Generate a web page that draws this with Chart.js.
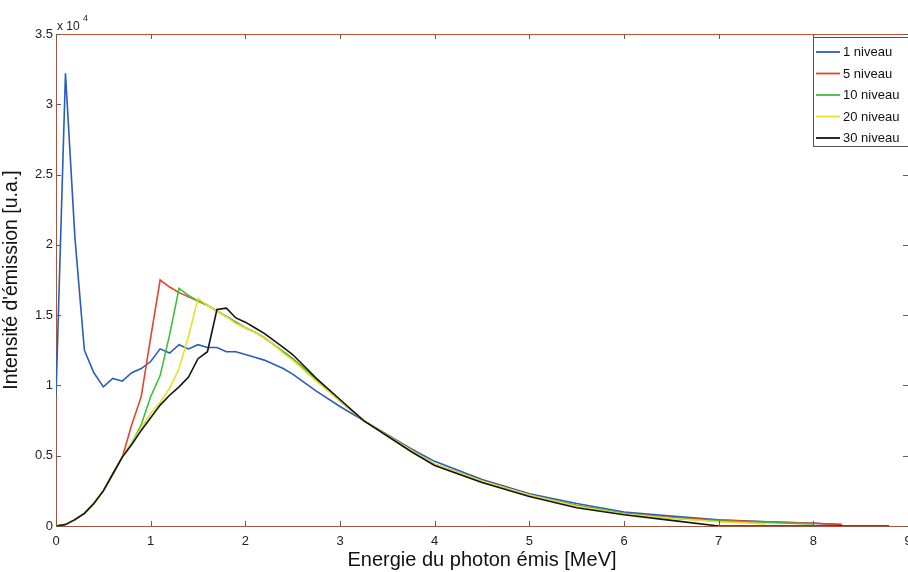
<!DOCTYPE html>
<html lang="fr">
<head>
<meta charset="utf-8">
<title>Intensité d'émission</title>
<script src="https://cdn.jsdelivr.net/npm/chart.js@4.4.1/dist/chart.umd.min.js"></script>
<style>
    html, body { margin: 0; padding: 0; background: #fff; }
    #wrap { width: 908px; height: 572px; }
</style>
</head>
<body>
<div id="wrap"><canvas id="SpectreChart" width="908" height="572"></canvas></div>
<script>

// ---------------- Data (intensity in units of 10^4) ----------------
const energies = [0, 0.1, 0.2, 0.3, 0.4, 0.5, 0.6, 0.7, 0.8, 0.9,
    1.0, 1.1, 1.2, 1.3, 1.4, 1.5, 1.6, 1.7, 1.8, 1.9,
    2.0, 2.1, 2.2, 2.3, 2.4, 2.5, 2.75, 3.0, 3.25, 3.5,
    3.75, 4.0, 4.5, 5.0, 5.5, 6.0, 6.5, 7.0, 7.5, 8.0, 8.3, 8.8];

const niveau1 = [0.93, 3.22, 2.05, 1.25, 1.09, 0.99, 1.05, 1.03, 1.09, 1.12,
    1.17, 1.26, 1.23, 1.29, 1.26, 1.29, 1.27, 1.27, 1.24, 1.24,
    1.22, 1.20, 1.18, 1.15, 1.12, 1.08, 0.96, 0.85, 0.75, 0.65,
    0.55, 0.46, 0.33, 0.23, 0.16, 0.10, 0.07, 0.045, 0.03, 0.02, 0.01, null];

const niveau5 = [0, 0.01, 0.045, 0.09, 0.16, 0.25, 0.37, 0.49, 0.72, 0.92,
    1.34, 1.75, 1.70, 1.66, 1.63, 1.60, 1.57, 1.53, 1.49, 1.45,
    1.41, 1.38, 1.34, 1.29, 1.24, 1.19, 1.04, 0.89, 0.75, 0.645,
    0.54, 0.44, 0.32, 0.22, 0.145, 0.09, 0.06, 0.04, 0.03, 0.02, 0.01, null];

const niveau10 = [0, 0.01, 0.045, 0.09, 0.16, 0.25, 0.37, 0.49, 0.59, 0.72,
    0.92, 1.07, 1.36, 1.69, 1.64, 1.60, 1.57, 1.53, 1.49, 1.45,
    1.41, 1.38, 1.34, 1.29, 1.24, 1.19, 1.04, 0.89, 0.75, 0.645,
    0.54, 0.44, 0.32, 0.22, 0.145, 0.09, 0.055, 0.035, 0.025, 0.015, null, null];

const niveau20 = [0, 0.01, 0.045, 0.09, 0.16, 0.25, 0.37, 0.49, 0.59, 0.70,
    0.80, 0.88, 0.98, 1.12, 1.35, 1.62, 1.57, 1.53, 1.49, 1.44,
    1.41, 1.38, 1.34, 1.29, 1.23, 1.18, 1.03, 0.89, 0.75, 0.645,
    0.54, 0.44, 0.32, 0.22, 0.14, 0.085, 0.055, 0.03, 0.015, null, null, null];

const niveau30 = [0, 0.01, 0.045, 0.09, 0.16, 0.25, 0.37, 0.49, 0.58, 0.68,
    0.77, 0.86, 0.93, 0.99, 1.06, 1.19, 1.24, 1.54, 1.55, 1.48,
    1.45, 1.41, 1.37, 1.32, 1.27, 1.22, 1.05, 0.90, 0.75, 0.64,
    0.53, 0.43, 0.31, 0.21, 0.13, 0.08, 0.04, 0, 0, 0, 0, 0];

const seriesLabels = ["1 niveau", "5 niveau", "10 niveau", "20 niveau", "30 niveau"];
const seriesColors = ["#2c5cbc", "#e2452e", "#3fbf3a", "#e6e02a", "#141414"];

const xTicks = [0, 1, 2, 3, 4, 5, 6, 7, 8, 9];
const yTicks = [0, 0.5, 1, 1.5, 2, 2.5, 3, 3.5];
const yExponent = "4";

const FONT = "'Liberation Sans', Arial, Helvetica, sans-serif";
const AXIS_COLOR = "#a9553e";
const TOP_COLOR = "#cf5230";


// ---------------- Datasets ----------------
function buildDatasets() {

    const all = [niveau1, niveau5, niveau10, niveau20, niveau30];

    return all.map((values, index) => ({
        label: seriesLabels[index],
        data: energies.map((e, i) => ({ x: e, y: values[i] })),
        borderColor: seriesColors[index],
        backgroundColor: seriesColors[index],
        borderWidth: 1.6,
        pointRadius: 0,
        tension: 0,
        fill: false,
        order: all.length - index
    }));
}


// ---------------- Box, inward ticks, exponent, legend ----------------
const matlabFrame = {
    id: "matlabFrame",
    afterDraw(chart) {

        const ctx = chart.ctx;
        const area = chart.chartArea;
        const xs = chart.scales.x;
        const ys = chart.scales.y;
        const tick = 5;

        ctx.save();

        // top border
        ctx.strokeStyle = TOP_COLOR;
        ctx.lineWidth = 1;
        ctx.beginPath();
        ctx.moveTo(area.left, area.top + 0.5);
        ctx.lineTo(area.right, area.top + 0.5);
        ctx.stroke();

        // inward ticks
        ctx.strokeStyle = "#6e5a52";
        ctx.beginPath();
        xTicks.forEach(v => {
            const px = Math.round(xs.getPixelForValue(v)) + 0.5;
            ctx.moveTo(px, area.bottom);
            ctx.lineTo(px, area.bottom - tick);
            ctx.moveTo(px, area.top);
            ctx.lineTo(px, area.top + tick);
        });
        yTicks.forEach(v => {
            const py = Math.round(ys.getPixelForValue(v)) + 0.5;
            ctx.moveTo(area.left, py);
            ctx.lineTo(area.left + tick, py);
            ctx.moveTo(area.right, py);
            ctx.lineTo(area.right - tick, py);
        });
        ctx.stroke();

        // exponent
        ctx.fillStyle = "#222";
        ctx.textBaseline = "alphabetic";
        ctx.textAlign = "left";
        ctx.font = "12px " + FONT;
        ctx.fillText("x 10", area.left + 1, 30);
        ctx.font = "9px " + FONT;
        ctx.fillText(yExponent, area.left + 27, 21);

        // legend
        const lx = 813, ly = 37, lh = 109;
        ctx.fillStyle = "#fff";
        ctx.fillRect(lx, ly, 100, lh);
        ctx.strokeStyle = "#5a4f4a";
        ctx.strokeRect(lx + 0.5, ly + 0.5, 100, lh);

        ctx.font = "13px " + FONT;
        ctx.textBaseline = "middle";
        seriesLabels.forEach((label, i) => {
            const y = ly + 15 + i * 21.5;
            ctx.strokeStyle = seriesColors[i];
            ctx.lineWidth = 1.8;
            ctx.beginPath();
            ctx.moveTo(816, y);
            ctx.lineTo(840, y);
            ctx.stroke();
            ctx.fillStyle = "#111";
            ctx.fillText(label, 843, y + 0.5);
        });

        ctx.restore();
    }
};


// ---------------- Create Chart ----------------
function createChart() {

    const canvas = document.getElementById("SpectreChart");
    const ctx = canvas.getContext("2d");

    new Chart(ctx, {

        type: "line",

        data: {
            datasets: buildDatasets()
        },

        options: {

            responsive: false,
            animation: false,
            devicePixelRatio: 1,

            layout: {
                padding: { top: 34, right: -3, left: 0, bottom: 0 }
            },

            scales: {

                x: {
                    type: "linear",
                    min: 0,
                    max: 9,
                    afterBuildTicks: s => { s.ticks = xTicks.map(v => ({ value: v })); },
                    afterFit: s => {
                        s.height = 46;
                        s.paddingLeft = 0;
                        s.paddingRight = 0;
                    },
                    ticks: {
                        font: { family: FONT, size: 13 },
                        color: "#222",
                        padding: 8,
                        maxRotation: 0,
                        autoSkip: false,
                        callback: v => String(v)
                    },
                    grid: { drawOnChartArea: false, drawTicks: false },
                    border: { color: AXIS_COLOR, width: 1 },
                    title: {
                        display: true,
                        text: "Energie du photon émis [MeV]",
                        font: { family: FONT, size: 20 },
                        color: "#111",
                        padding: { top: 0, bottom: 0 }
                    }
                },

                y: {
                    type: "linear",
                    min: 0,
                    max: 3.5,
                    afterBuildTicks: s => { s.ticks = yTicks.map(v => ({ value: v })); },
                    afterFit: s => {
                        s.width = 56;
                        s.paddingTop = 0;
                        s.paddingBottom = 0;
                    },
                    ticks: {
                        font: { family: FONT, size: 13 },
                        color: "#222",
                        padding: 3,
                        callback: v => String(v)
                    },
                    grid: { drawOnChartArea: false, drawTicks: false },
                    border: { color: AXIS_COLOR, width: 1 },
                    title: {
                        display: true,
                        text: "Intensité d'émission [u.a.]",
                        font: { family: FONT, size: 19.5 },
                        color: "#111",
                        padding: { top: 0, bottom: 0 }
                    }
                }

            },

            plugins: {
                legend: { display: false },
                tooltip: { enabled: false }
            }

        },

        plugins: [matlabFrame]

    });

}

document.addEventListener("DOMContentLoaded", () => {
    createChart();
});

</script>
</body>
</html>
